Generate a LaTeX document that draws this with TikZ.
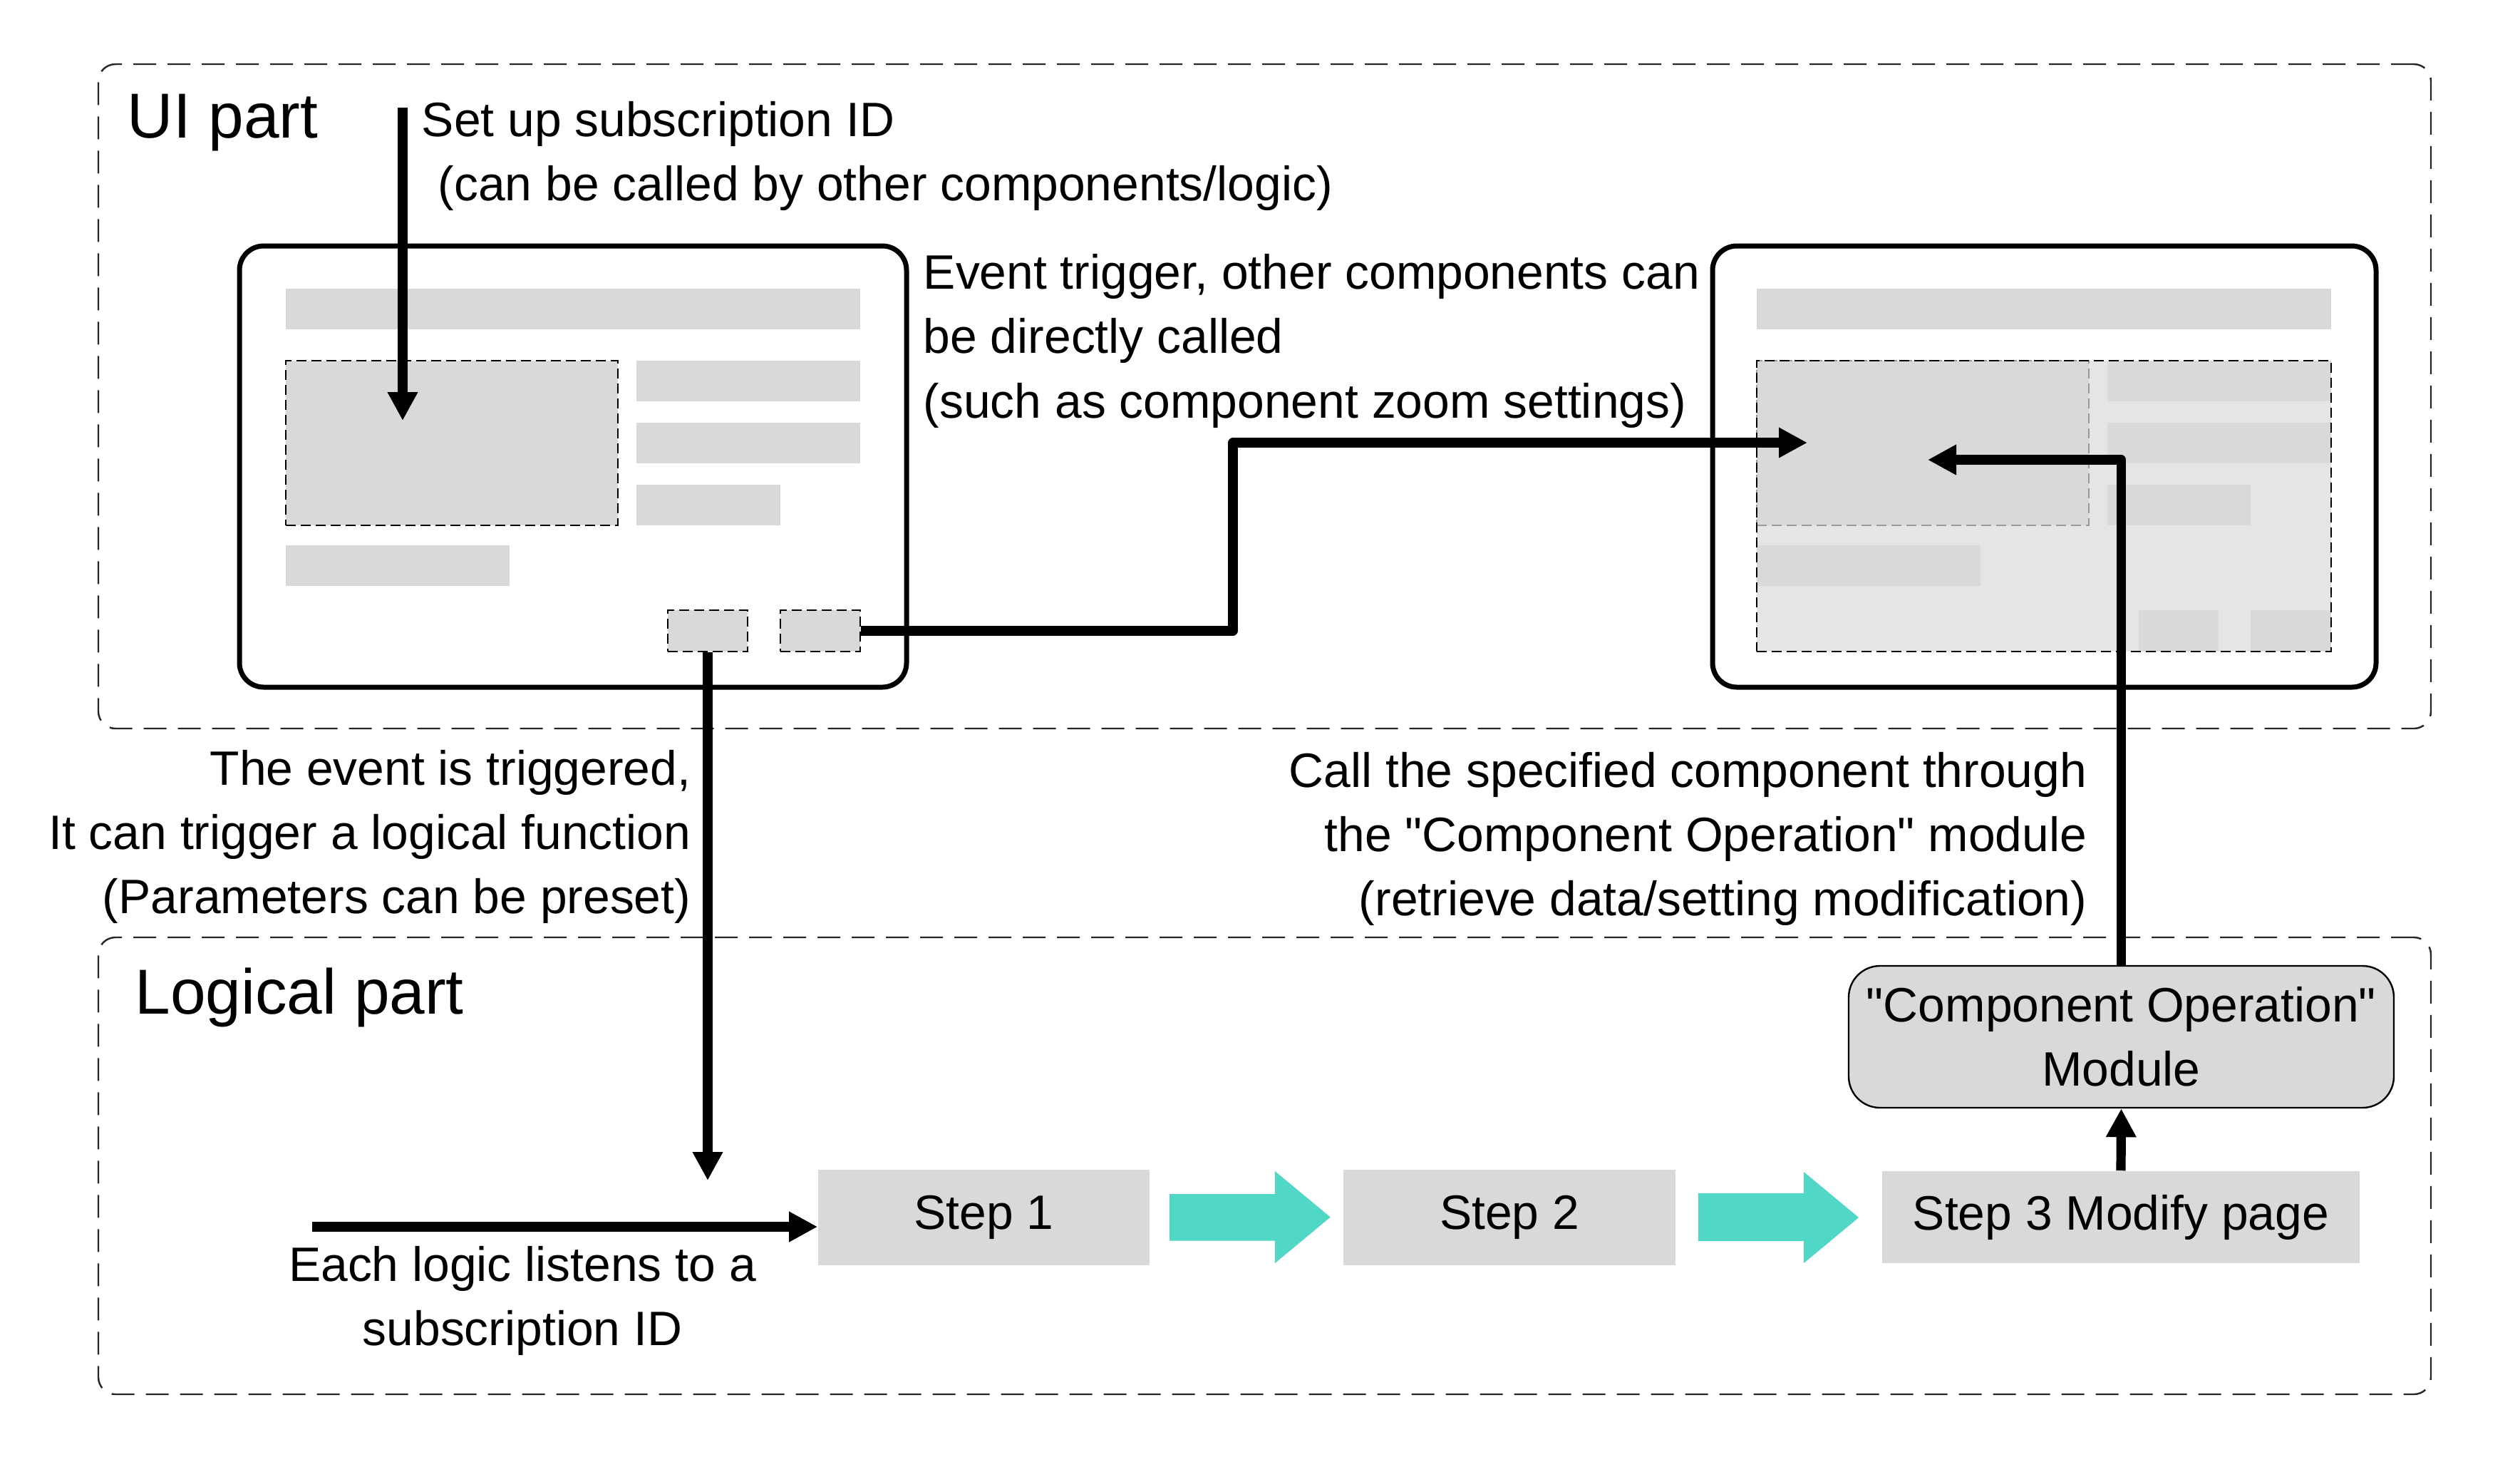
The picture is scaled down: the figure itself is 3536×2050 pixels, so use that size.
\documentclass[tikz,border=0pt]{standalone}
\usepackage{fontspec}
\setmainfont{Liberation Sans}[Ligatures=TeXOff]
\usetikzlibrary{arrows.meta,fit}
\definecolor{boxgray}{HTML}{D9D9D9}
\definecolor{lightgray2}{HTML}{E5E5E5}
\definecolor{tealarrow}{RGB}{80,215,197}
\definecolor{dashgray}{HTML}{999999}
\begin{document}
\begin{tikzpicture}[x=0.25pt,y=-0.25pt,
  partbox/.style={draw=black!85, line width=0.6pt, dash pattern=on 8pt off 4pt, rounded corners=6pt, inner sep=0pt},
  window/.style={draw=black, line width=1.75pt, rounded corners=8.5pt, fill=white, inner sep=0pt},
  bar/.style={fill=boxgray, inner sep=0pt},
  dbar/.style={fill=boxgray, draw=black, line width=0.45pt, dash pattern=on 3.5pt off 1.75pt, inner sep=0pt},
  gbar/.style={fill=boxgray, draw=dashgray, line width=0.45pt, dash pattern=on 3.5pt off 1.75pt, inner sep=0pt},
  region/.style={fill=lightgray2, inner sep=0pt},
  regionborder/.style={draw=black, line width=0.45pt, dash pattern=on 3.5pt off 1.75pt, inner sep=0pt},
  conn/.style={line width=3.3pt, -{Triangle[length=10pt,width=10pt]}, line join=round},
  txt/.style={inner sep=0pt, font=\fontsize{16.95pt}{22.5pt}\selectfont},
  title/.style={inner sep=0pt, font=\fontsize{22.3pt}{26pt}\selectfont},
  stepbox/.style={fill=boxgray, inner sep=0pt},
  modbox/.style={fill=boxgray, draw=black, line width=0.6pt, rounded corners=11pt, inner sep=0pt},
  teal/.style={fill=tealarrow},
]
\useasboundingbox (0,0) rectangle (3536,2050);
\fill[white] (0,0) rectangle (3536,2050);

% part boxes
\node[partbox, fit={(138,90)(3411,1022)}] (ui) {};
\node[partbox, fit={(138,1315)(3411,1956)}] (logic) {};

% left window
\node[window, fit={(336,345)(1272,964)}] (lw) {};
\node[bar, fit={(401,405)(1207,462)}] (lwtop) {};
\node[dbar, fit={(401,506)(867,737)}] (lwblock) {};
\node[bar, fit={(893,506)(1207,563)}] (lwr1) {};
\node[bar, fit={(893,593)(1207,650)}] (lwr2) {};
\node[bar, fit={(893,680)(1095,737)}] (lwr3) {};
\node[bar, fit={(401,765)(715,822)}] (lwbot) {};
\node[dbar, fit={(937,856)(1049,914)}] (lb1) {};
\node[dbar, fit={(1095,856)(1207,914)}] (lb2) {};

% right window
\node[window, fit={(2403,345)(3334,964)}] (rw) {};
\node[bar, fit={(2465,405)(3271,462)}] (rwtop) {};
\node[region, fit={(2465,506)(3271,914)}] (rwregion) {};
\node[gbar, fit={(2465,506)(2931,737)}] (rwblock) {};
\node[bar, fit={(2957,506)(3271,563)}] (rwr1) {};
\node[bar, fit={(2957,593)(3271,650)}] (rwr2) {};
\node[bar, fit={(2957,680)(3158,737)}] (rwr3) {};
\node[bar, fit={(2465,765)(2779,822)}] (rwbot) {};
\node[bar, fit={(3001,856)(3113,914)}] (rb1) {};
\node[bar, fit={(3158,856)(3271,914)}] (rb2) {};
\node[regionborder, fit={(2465,506)(3271,914)}] (rwregionb) {};

% steps
\node[stepbox, fit={(1148,1641)(1613,1775)}] (s1) {};
\node[txt] (s1t) at (s1.center) {Step 1};
\node[stepbox, fit={(1885,1641)(2351,1775)}] (s2) {};
\node[txt] (s2t) at (s2.center) {Step 2};
\node[stepbox, fit={(2641,1643)(3311,1772)}] (s3) {};
\node[txt] (s3t) at (s3.center) {Step 3 Modify page};
\node[modbox, fit={(2594,1355)(3359,1554)}] (mod) {};
\node[txt, align=center] (modt) at (mod.center) {"Component Operation"\\Module};

% teal arrows
\fill[teal] (1641,1675) -- (1789,1675) -- (1789,1643) -- (1866.7,1707.5) -- (1789,1772) -- (1789,1740.7) -- (1641,1740.7) -- cycle;
\fill[teal] (2383,1674) -- (2531,1674) -- (2531,1644) -- (2608,1708) -- (2531,1772) -- (2531,1741) -- (2383,1741) -- cycle;

% connectors
\coordinate (su) at (565,151);
\coordinate (sutip) at (565,590);
\draw[conn] (su) -- (sutip);

\coordinate (turn1) at (1730,621);
\coordinate (rtip) at (2536,621);
\draw[conn] (lb2.east) -| (turn1) -- (rtip);

\coordinate (ltip) at (2705,645);
\draw[conn] (mod.north) |- (ltip);

\coordinate (vtip) at (993,1656);
\draw[conn] (lb1.south) -- (vtip);

\coordinate (hstart) at (438,1721);
\draw[conn] (hstart) -- (hstart -| s1.west);

\draw[conn] (s3.north) -- (mod.south);

% texts
\node[title, anchor=base west] (uititle) at (178,193) {UI part};
\node[title, anchor=base west] (lgtitle) at (189,1422) {Logical part};

\node[txt, anchor=base west] (su1) at (591,191) {Set up subscription ID};
\node[txt, anchor=base west] (su2) at (614,281) {(can be called by other components/logic)};

\node[txt, anchor=base west] (ev1) at (1295,405) {Event trigger, other components can};
\node[txt, anchor=base west] (ev2) at (1295,495) {be directly called};
\node[txt, anchor=base west] (ev3) at (1295,586) {(such as component zoom settings)};

\node[txt, anchor=base east] (tr1) at (970,1101) {The event is triggered,};
\node[txt, anchor=base east] (tr2) at (970,1191) {It can trigger a logical function};
\node[txt, anchor=base east] (tr3) at (970,1281) {(Parameters can be preset)};

\node[txt, anchor=base east] (ca1) at (2929,1104) {Call the specified component through};
\node[txt, anchor=base east] (ca2) at (2929,1194) {the "Component Operation" module};
\node[txt, anchor=base east] (ca3) at (2929,1284) {(retrieve data/setting modification)};

\node[txt, anchor=base] (ea1) at (733,1797) {Each logic listens to a};
\node[txt, anchor=base] (ea2) at (733,1887) {subscription ID};
\end{tikzpicture}
\end{document}
